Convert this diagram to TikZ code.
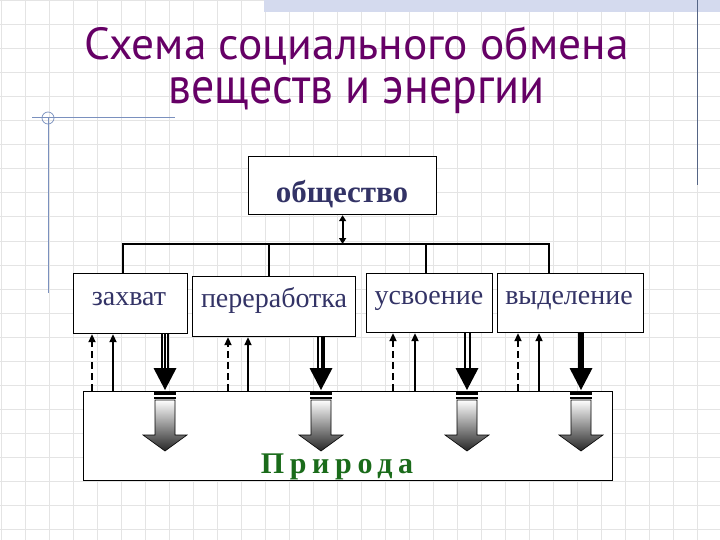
\documentclass[tikz,border=0pt]{standalone}
\usepackage{fontspec}
\setmainfont{Liberation Serif}
\newfontfamily\titlefont{PT Sans}
\usetikzlibrary{arrows.meta}
\definecolor{titlec}{RGB}{102,0,102}
\definecolor{boxtxt}{RGB}{51,51,102}
\definecolor{natc}{RGB}{26,107,26}
\definecolor{gridc}{RGB}{228,228,228}
\definecolor{decoc}{RGB}{122,144,190}
\definecolor{bandc}{RGB}{212,218,238}
\tikzset{
  boxnode/.style={draw=black, line width=1.2pt, fill=white, inner sep=0pt, anchor=north west},
  boxtext/.style={font=\fontsize{28}{30}\selectfont, text=boxtxt, anchor=base, inner sep=0pt},
  upsolid/.style={line width=2.6pt, -{Triangle[length=8pt,width=7pt]}},
  updash/.style={line width=2.6pt, dash pattern=on 7pt off 4pt, -{Triangle[length=8pt,width=7pt]}},
  conn/.style={line width=1.2pt},
  titletext/.style={text=titlec, anchor=base, inner sep=0pt},
}
\newcommand\headdown[1]{%
  \fill[black] (#1-11.5,368) -- (#1+11.5,368) -- (#1,390) -- cycle;
  \fill[black] (#1-11,392) rectangle (#1+11,394.5);
  \fill[black] (#1-11,396.5) rectangle (#1+11,399);
  \shade[top color=white, bottom color=black!85, draw=black, line width=0.6pt]
    (#1-10,400) -- (#1+10,400) -- (#1+10,435) -- (#1+22,435) -- (#1,451)
    -- (#1-22,435) -- (#1-10,435) -- cycle;}
\begin{document}
\begin{tikzpicture}[x=1pt,y=-1pt]
\useasboundingbox (0,0) rectangle (720,540);
\fill[white] (0,0) rectangle (720,540);
\foreach \i in {0,...,29} \draw[gridc, line width=1pt] (1+24*\i,0) -- (1+24*\i,540);
\foreach \j in {0,...,22} \draw[gridc, line width=1pt] (0,1+24*\j) -- (720,1+24*\j);
% decorations
\fill[bandc] (264,0) rectangle (720,12);
\draw[decoc!70!black, line width=1pt] (697,0) -- (697,185);
\draw[decoc, line width=1pt] (32,118) -- (175,118);
\draw[decoc, line width=1pt] (48,118) -- (48,293);
\draw[decoc, line width=0.7pt] (48,118) circle (6);
% title
\node[titletext, font=\titlefont\fontsize{45}{50}\selectfont, text depth=7pt] (t1) at (356.5,60) {\scalebox{1.01}[1]{Схема социального обмена}};
\node[titletext, font=\titlefont\fontsize{51}{56}\selectfont, text height=27pt] (t2) at (356.5,104) {\scalebox{0.9}[1]{веществ и энергии}};
% society
\node[boxnode, minimum width=188pt, minimum height=58pt] (soc) at (248,156) {};
\node[font=\bfseries\fontsize{31}{33}\selectfont, text=boxtxt, anchor=base, inner sep=0pt] (soct) at (342,203) {общество};
% boxes
\node[boxnode, minimum width=114pt, minimum height=60pt] (zah) at (73,273) {};
\node[boxnode, minimum width=163pt, minimum height=60pt] (per) at (192,276) {};
\node[boxnode, minimum width=126pt, minimum height=59pt] (usv) at (366,273) {};
\node[boxnode, minimum width=146pt, minimum height=59pt] (vyd) at (497,273) {};
\node[boxtext] (zaht) at (129,305) {захват};
\node[boxtext] (pert) at (274,307) {переработка};
\node[boxtext] (usvt) at (429,304) {усвоение};
\node[boxtext] (vydt) at (569,304) {выделение};
% bus
\coordinate (busL) at (123,244);
\coordinate (busR) at (549,244);
\coordinate (bus2) at (269,244);
\coordinate (bus3) at (426,244);
\draw[conn] (busL |- zah.north) -- (busL) -- (busR) -- (busR |- vyd.north);
\draw[conn] (bus2) -- (bus2 |- per.north);
\draw[conn] (bus3) -- (bus3 |- usv.north);
\draw[line width=2pt, {Triangle[length=6pt,width=7pt]}-{Triangle[length=6pt,width=7pt]}] (soc.south) -- (soc.south |- busL);
% nature
\node[boxnode, minimum width=529pt, minimum height=89pt] (nat) at (83,391) {};
\node[font=\bfseries\addfontfeatures{LetterSpace=19}\fontsize{30}{32}\selectfont, text=natc, anchor=base, inner sep=0pt] (natt) at (337,473) {Природа};
% up arrows
\foreach \xd/\xs/\bx in {92/113/zah, 228/248/per, 393/415/usv, 518/539/vyd}{
  \draw[updash] (\xd,391) -- (\xd,0 |- \bx.south);
  \draw[upsolid] (\xs,391) -- (\xs,0 |- \bx.south);
}
% down arrows shafts
\draw[line width=1.2pt] (162,333) -- (162,369) (165,333) -- (165,369) (168,333) -- (168,369);
\draw[line width=1.5pt] (318,336) -- (318,369);
\draw[line width=4pt] (322.5,336) -- (322.5,369);
\draw[line width=2pt] (465,332) -- (465,369) (469.5,332) -- (469.5,369);
\draw[line width=6pt] (581,332) -- (581,369);
\headdown{165}
\headdown{321}
\headdown{467}
\headdown{581}
\end{tikzpicture}
\end{document}
